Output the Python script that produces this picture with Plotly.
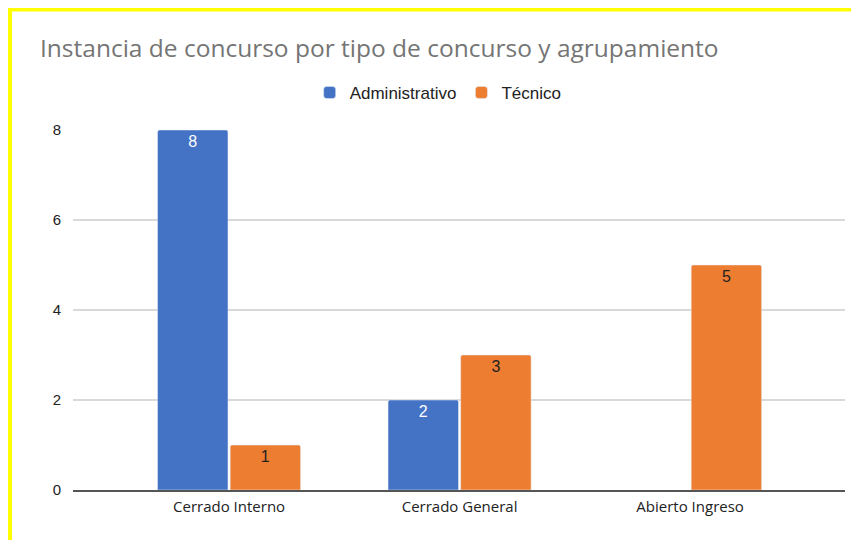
import plotly.graph_objects as go

# datos del gráfico
categorias = ['Cerrado Interno', 'Cerrado General', 'Abierto Ingreso']
administrativo = [8, 2, None]
tecnico = [1, 3, 5]
y_ticks = [0, 2, 4, 6, 8]

AZUL = '#4472C4'
NARANJA = '#ED7D31'

# la página deja 8 px de margen, se compensa en los márgenes de la figura
fig = go.Figure()
fig.add_trace(go.Bar(x=categorias, y=administrativo, name='Administrativo',
                     marker=dict(color=AZUL, cornerradius=2),
                     text=administrativo, textposition='inside', insidetextanchor='end',
                     textfont=dict(family='Liberation Sans, Arial', size=16, color='white'),
                     hoverinfo='x+y+name'))
fig.add_trace(go.Bar(x=categorias, y=tecnico, name='Técnico',
                     marker=dict(color=NARANJA, cornerradius=2),
                     text=tecnico, textposition='inside', insidetextanchor='end',
                     textfont=dict(family='Liberation Sans, Arial', size=16, color='#222222'),
                     hoverinfo='x+y+name'))

fig.update_layout(
    width=859, height=540,
    margin=dict(l=65, r=22, t=122, b=58),
    paper_bgcolor='white', plot_bgcolor='white',
    barmode='group', bargap=0.37, bargroupgap=0.03,
    title=dict(text='Instancia de concurso por tipo de concurso y agrupamiento',
               x=32 / 859, xanchor='left', xref='container',
               y=1 - 40 / 540, yanchor='middle', yref='container',
               font=dict(family='Open Sans', size=24.5, color='#757575')),
    legend=dict(orientation='h', x=0.473, xanchor='center', y=1.103, yanchor='middle',
                font=dict(family='Liberation Sans, Arial', size=17, color='#222222'),
                itemwidth=30, bgcolor='rgba(0,0,0,0)'),
    showlegend=True,
)

fig.update_xaxes(range=[-0.677, 2.672], showgrid=False, showline=True,
                 linecolor='#555555', linewidth=1.5,
                 tickfont=dict(family='Open Sans', size=15, color='#222222'),
                 ticks='outside', ticklen=2, tickcolor='white')
fig.update_yaxes(range=[0, 8], tickvals=y_ticks, showgrid=True, gridcolor='#D9D9D9',
                 gridwidth=1.5, zeroline=False, showline=False,
                 tickfont=dict(family='Liberation Sans, Arial', size=15, color='#222222'),
                 ticks='outside', ticklen=8, tickcolor='white')

# marco amarillo (borde superior e izquierdo)
fig.add_shape(type='line', xref='paper', yref='paper',
              x0=(0 - 65) / 772, x1=(870 - 65) / 772,
              y0=(482 - 1.5) / 360, y1=(482 - 1.5) / 360,
              line=dict(color='#FFFF00', width=4))
fig.add_shape(type='line', xref='paper', yref='paper',
              x0=(2 - 65) / 772, x1=(2 - 65) / 772,
              y0=(482 - 0) / 360, y1=(482 - 545) / 360,
              line=dict(color='#FFFF00', width=4))

fig.write_html('out.html')
